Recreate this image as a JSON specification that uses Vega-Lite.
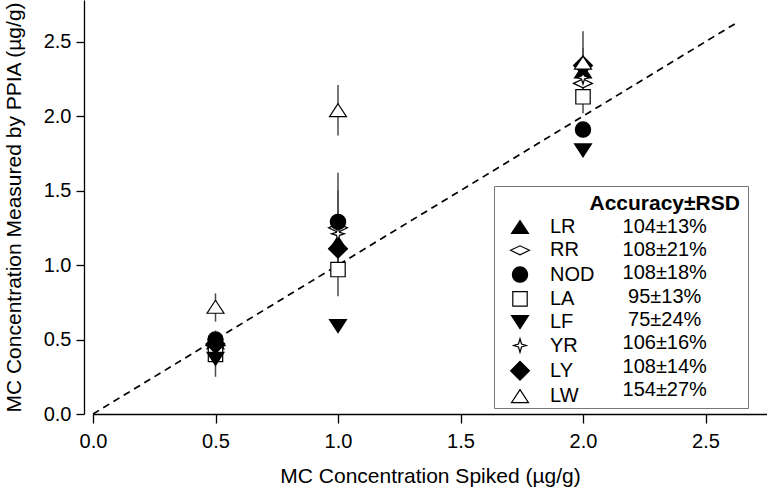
{
  "$schema": "https://vega.github.io/schema/vega-lite/v6.json",
  "width": 674,
  "height": 414,
  "autosize": {"type": "none"},
  "padding": {"left": 93, "top": 0, "right": 0, "bottom": 79},
  "config": {
    "view": {"stroke": null},
    "font": "Liberation Sans",
    "axis": {"labelFont": "Liberation Sans", "titleFont": "Liberation Sans", "grid": false, "domainColor": "black", "tickColor": "black", "labelColor": "black", "titleColor": "black", "domainWidth": 1.3, "tickWidth": 1.3, "labelFontSize": 20, "titleFontSize": 21, "titleFontWeight": "normal", "labelFlush": false},
    "legend": {"labelFont": "Liberation Sans", "titleFont": "Liberation Sans"}
  },
  "datasets": {
    "pts": [
      {"series": "LR", "acc": "104±13%", "x": 0.5, "y": 0.48, "lo": 0.42, "hi": 0.54},
      {"series": "LR", "acc": "104±13%", "x": 1.0, "y": 1.15, "lo": 1.0, "hi": 1.3},
      {"series": "LR", "acc": "104±13%", "x": 2.0, "y": 2.3, "lo": 2.2, "hi": 2.4},
      {"series": "RR", "acc": "108±21%", "x": 0.5, "y": 0.46, "lo": 0.38, "hi": 0.54},
      {"series": "RR", "acc": "108±21%", "x": 1.0, "y": 1.25, "lo": 1.0, "hi": 1.5},
      {"series": "RR", "acc": "108±21%", "x": 2.0, "y": 2.22, "lo": 2.1, "hi": 2.35},
      {"series": "NOD", "acc": "108±18%", "x": 0.5, "y": 0.5, "lo": 0.44, "hi": 0.56},
      {"series": "NOD", "acc": "108±18%", "x": 1.0, "y": 1.29, "lo": 0.96, "hi": 1.62},
      {"series": "NOD", "acc": "108±18%", "x": 2.0, "y": 1.91, "lo": 1.88, "hi": 1.94},
      {"series": "LA", "acc": "95±13%", "x": 0.5, "y": 0.4, "lo": 0.34, "hi": 0.46},
      {"series": "LA", "acc": "95±13%", "x": 1.0, "y": 0.97, "lo": 0.79, "hi": 1.15},
      {"series": "LA", "acc": "95±13%", "x": 2.0, "y": 2.13, "lo": 2.02, "hi": 2.24},
      {"series": "LF", "acc": "75±24%", "x": 0.5, "y": 0.37, "lo": 0.25, "hi": 0.49},
      {"series": "LF", "acc": "75±24%", "x": 1.0, "y": 0.59, "lo": 0.57, "hi": 0.61},
      {"series": "LF", "acc": "75±24%", "x": 2.0, "y": 1.77, "lo": 1.75, "hi": 1.79},
      {"series": "YR", "acc": "106±16%", "x": 0.5, "y": 0.45, "lo": 0.39, "hi": 0.51},
      {"series": "YR", "acc": "106±16%", "x": 1.0, "y": 1.21, "lo": 1.05, "hi": 1.37},
      {"series": "YR", "acc": "106±16%", "x": 2.0, "y": 2.26, "lo": 2.16, "hi": 2.36},
      {"series": "LY", "acc": "108±14%", "x": 0.5, "y": 0.47, "lo": 0.41, "hi": 0.53},
      {"series": "LY", "acc": "108±14%", "x": 1.0, "y": 1.11, "lo": 0.98, "hi": 1.24},
      {"series": "LY", "acc": "108±14%", "x": 2.0, "y": 2.34, "lo": 2.22, "hi": 2.46},
      {"series": "LW", "acc": "154±27%", "x": 0.5, "y": 0.72, "lo": 0.62, "hi": 0.81},
      {"series": "LW", "acc": "154±27%", "x": 1.0, "y": 2.04, "lo": 1.87, "hi": 2.21},
      {"series": "LW", "acc": "154±27%", "x": 2.0, "y": 2.36, "lo": 2.15, "hi": 2.57}
    ],
    "diag": [
      {"x": 0, "y": 0},
      {"x": 2.62, "y": 2.62}
    ]
  },
  "layer": [
    {
      "data": {"name": "diag"},
      "mark": {"type": "line", "color": "black", "strokeDash": [7, 5], "strokeWidth": 1.7},
      "encoding": {
        "x": {"field": "x", "type": "quantitative", "scale": {"domain": [0, 2.751], "nice": false, "zero": false},
          "axis": {"values": [0, 0.5, 1, 1.5, 2, 2.5], "format": ".1f", "title": "MC Concentration Spiked (µg/g)", "tickSize": 9, "labelPadding": 8, "titlePadding": 14}},
        "y": {"field": "y", "type": "quantitative", "scale": {"domain": [0, 2.78], "nice": false, "zero": false},
          "axis": {"values": [0, 0.5, 1, 1.5, 2, 2.5], "format": ".1f", "title": "MC Concentration Measured by PPIA (µg/g)", "offset": 9, "tickSize": 8, "labelPadding": 5, "titlePadding": 19}}
      }
    },
    {
      "data": {"name": "pts"},
      "mark": {"type": "rule", "color": "#4a4a4a", "strokeWidth": 1.5},
      "encoding": {
        "x": {"field": "x", "type": "quantitative"},
        "y": {"field": "lo", "type": "quantitative"},
        "y2": {"field": "hi"}
      }
    },
    {
      "data": {"name": "pts"},
      "mark": {"type": "point", "filled": true, "stroke": "black", "strokeWidth": 1.2, "size": 324},
      "encoding": {
        "x": {"field": "x", "type": "quantitative"},
        "y": {"field": "y", "type": "quantitative"},
        "shape": {"field": "series", "type": "nominal",
          "scale": {"domain": ["LR", "RR", "NOD", "LA", "LF", "YR", "LY", "LW"],
            "range": ["M0,-0.72L0.94,0.72L-0.94,0.72Z", "M-1.05,0L0,-0.5L1.05,0L0,0.5Z", "M-0.85,0A0.85,0.85,0,1,1,0.85,0A0.85,0.85,0,1,1,-0.85,0Z", "M-0.8,-0.8L0.8,-0.8L0.8,0.8L-0.8,0.8Z", "M0,0.72L0.94,-0.72L-0.94,-0.72Z", "M0,-0.75L0.17,-0.17L0.72,0L0.17,0.17L0,0.75L-0.17,0.17L-0.72,0L-0.17,-0.17Z", "M-1.05,0L0,-1.05L1.05,0L0,1.05Z", "M0,-0.72L0.94,0.72L-0.94,0.72Z"]},
          "legend": {"orient": "none", "legendX": 417, "legendY": 217, "title": null, "padding": 0, "labelFontSize": 20, "labelColor": "black", "labelOffset": 20, "rowPadding": 3.3, "symbolSize": 324, "symbolStrokeColor": "black", "symbolStrokeWidth": 1.2, "symbolOpacity": 1, "encode": {"symbols": {"update": {"opacity": {"value": 1}, "stroke": {"value": "black"}, "strokeWidth": {"value": 1.2}}}}}},
        "fill": {"field": "series", "type": "nominal",
          "scale": {"domain": ["LR", "RR", "NOD", "LA", "LF", "YR", "LY", "LW"],
            "range": ["black", "white", "black", "white", "black", "white", "black", "white"]},
          "legend": {"orient": "none", "legendX": 417, "legendY": 217, "title": null, "padding": 0, "labelFontSize": 20, "labelColor": "black", "labelOffset": 20, "rowPadding": 3.3, "symbolSize": 324, "symbolStrokeColor": "black", "symbolStrokeWidth": 1.2, "symbolOpacity": 1, "encode": {"symbols": {"update": {"opacity": {"value": 1}, "stroke": {"value": "black"}, "strokeWidth": {"value": 1.2}}}}}},
        "opacity": {"field": "acc", "type": "nominal",
          "scale": {"type": "ordinal", "domain": ["Accuracy±RSD", "104±13%", "108±21%", "108±18%", "95±13%", "75±24%", "106±16%", "108±14%", "154±27%"], "range": [1, 1, 1, 1, 1, 1, 1, 1, 1]},
          "legend": {"orient": "none", "legendX": 401, "legendY": 186, "title": null, "padding": 7.5, "strokeColor": "#777777", "labelFontSize": 20, "labelColor": "black", "labelAlign": "center", "labelOffset": 143.2, "rowPadding": 3.3, "symbolSize": 100, "symbolType": "M0,0", "symbolFillColor": "transparent", "symbolStrokeColor": "transparent", "symbolStrokeWidth": 0,
            "encode": {
              "symbols": {"update": {"opacity": {"value": 0}, "fillOpacity": {"value": 0}, "strokeOpacity": {"value": 0}}},
              "labels": {"update": {"fontWeight": {"signal": "datum.value === 'Accuracy±RSD' ? 'bold' : 'normal'"}, "fontSize": {"signal": "datum.value === 'Accuracy±RSD' ? 21 : 20"}}}
            }}}
      }
    }
  ]
}
